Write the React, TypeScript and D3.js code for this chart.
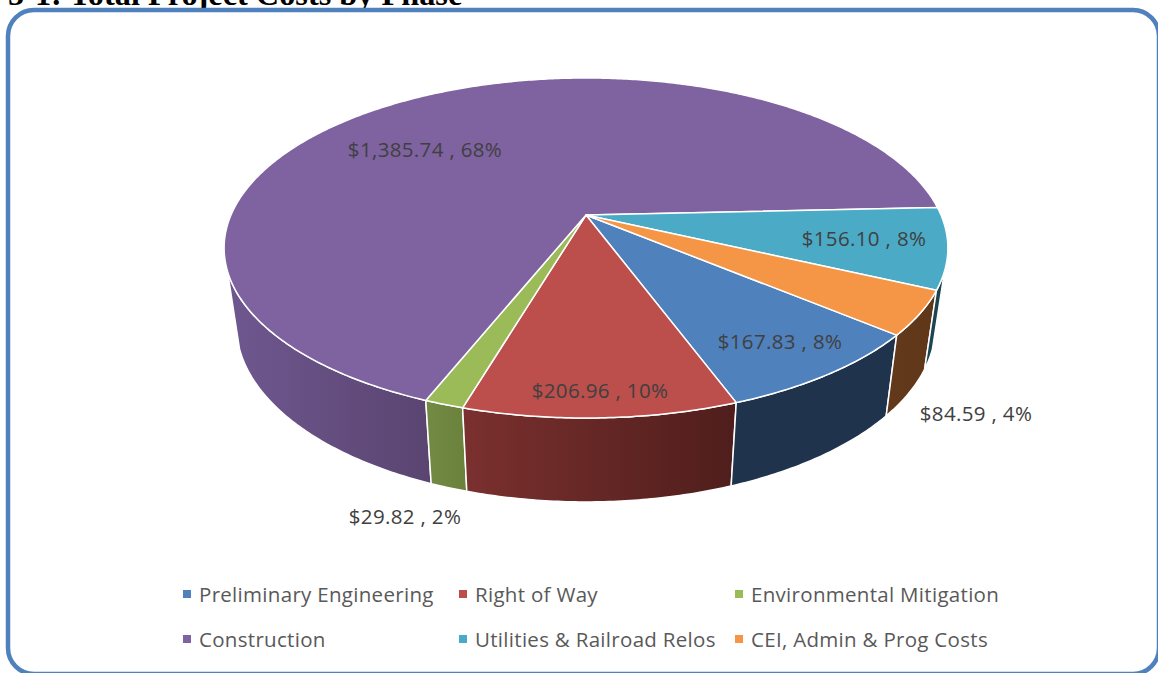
import React from "react";
import * as d3 from "d3";

const categories = ["Preliminary Engineering", "Right of Way", "Environmental Mitigation", "Construction", "Utilities & Railroad Relos", "CEI, Admin & Prog Costs"];
const values = [167.83, 206.96, 29.82, 1385.74, 156.1, 84.59];
const percents = ["8%", "10%", "2%", "68%", "8%", "4%"];
const topColors = ["#4f81bd", "#bc4e4c", "#9bbb59", "#7f62a0", "#4babc6", "#f49646"];
const sideLeft = ["#1f334d", "#7a302e", "#728a42", "#6f5890", "#1f4f5c", "#6a3d1c"];
const sideRight = ["#1f334d", "#4f1e1c", "#6a813d", "#5a4470", "#1b4450", "#5f3719"];
const legendOrder = [0, 1, 2, 3, 4, 5];
const legendX = [183, 459, 735];
const legendY = [594, 639];
const labelPos: [number, number][] = [[780, 341], [600, 390], [405, 516], [425, 149], [864, 238], [976, 413]];

const cx = 586;
const p = 0.194;
const top = { a: 355, b: 163.6, y: 215 };
const bottom = { a: 343, b: 170, y: 291 };
const project = (s: { a: number; b: number; y: number }, ang: number): [number, number] => {
  const u = Math.sin(ang);
  const v = -Math.cos(ang);
  const w = 1 - p * v;
  return [cx + (s.a * u) / w, s.y + (s.b * v) / w];
};

const startDeg = 130;
const pie = d3
  .pie<number>()
  .sort(null)
  .startAngle((startDeg * Math.PI) / 180)
  .endAngle(((startDeg + 360) * Math.PI) / 180);
const arcs = pie(values);
const line = d3.line();
const STEP = 0.01;
const samples = (a: number, b: number) => [...d3.range(a, b, STEP), b];
const apex: [number, number] = [cx, top.y];

export default function App() {
  // The wall is visible only on the front of the rim, between the two silhouette edges.
  const wall = (a: number, b: number) => {
    const lo = (108.7 * Math.PI) / 180;
    const hi = (251.3 * Math.PI) / 180;
    const ranges: [number, number][] = [[a, b], [a + 2 * Math.PI, b + 2 * Math.PI], [a - 2 * Math.PI, b - 2 * Math.PI]];
    const out: string[] = [];
    ranges.forEach(([s, e]) => {
      const s2 = Math.max(s, lo);
      const e2 = Math.min(e, hi);
      if (e2 > s2) {
        const t = samples(s2, e2).map((x) => project(top, x));
        const bt = samples(s2, e2).map((x) => project(bottom, x)).reverse();
        out.push(line([...t, ...bt])! + "Z");
      }
    });
    return out.join("");
  };

  const order = [3, 2, 1, 0, 5, 4];
  return (
    <svg width={1158} height={673} style={{ position: "fixed", left: 0, top: 0, background: "#fff" }}>
      <defs>
        {categories.map((_, i) => (
          <linearGradient key={i} id={`side${i}`} gradientUnits="userSpaceOnUse" x1={i === 3 ? 224 : i === 1 ? 465 : i === 2 ? 427 : 730} x2={i === 3 ? 432 : i === 1 ? 735 : i === 2 ? 468 : 948} y1={0} y2={0}>
            <stop offset="0" stopColor={sideLeft[i]} />
            <stop offset="1" stopColor={sideRight[i]} />
          </linearGradient>
        ))}
      </defs>
      <text x={8} y={5} fontFamily="Liberation Serif" fontWeight="bold" fontSize={32.3} fill="#000">
        5-1: Total Project Costs by Phase
      </text>
      <rect x={8} y={10} width={1151} height={664} rx={26} ry={26} fill="#fff" stroke="#4f81bd" strokeWidth={4.5} />
      {order.map((i) => (
        <path key={`w${i}`} d={wall(arcs[i].startAngle, arcs[i].endAngle)} fill={`url(#side${i})`} stroke="#fff" strokeWidth={1.5} strokeLinejoin="round" />
      ))}
      {arcs.map((a, i) => {
        const rim = samples(a.startAngle, a.endAngle).map((x) => project(top, x));
        return <path key={`t${i}`} d={line([apex, ...rim])! + "Z"} fill={topColors[i]} stroke="#fff" strokeWidth={1.5} strokeLinejoin="round" />;
      })}
      {categories.map((_, i) => (
        <text key={`l${i}`} x={labelPos[i][0]} y={labelPos[i][1]} textAnchor="middle" dominantBaseline="central" fontFamily="Open Sans" fontSize={20.5} letterSpacing={0.35} fill="#404040">
          {`$${d3.format(",.2f")(values[i])} , ${percents[i]}`}
        </text>
      ))}
      {legendOrder.map((i) => {
        const x = legendX[i % 3];
        const y = legendY[Math.floor(i / 3)];
        return (
          <g key={`k${i}`}>
            <rect x={x} y={y - 4} width={8} height={8} fill={topColors[i]} />
            <text x={x + 16} y={y} dominantBaseline="central" fontFamily="Open Sans" fontSize={20.5} letterSpacing={0.3} fill="#595959">
              {categories[i]}
            </text>
          </g>
        );
      })}
    </svg>
  );
}
